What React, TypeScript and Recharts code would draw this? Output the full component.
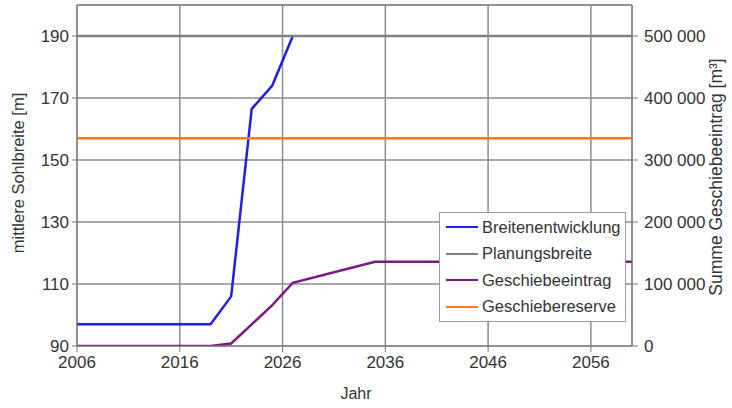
import React from 'react';
import { LineChart, Line, XAxis, YAxis, CartesianGrid, ReferenceLine, Label } from 'recharts';

// Jahre / Werte
const xTicks = [2006, 2016, 2026, 2036, 2046, 2056];
const leftTicks = [90, 110, 130, 150, 170, 190];
const rightTicks = [0, 100000, 200000, 300000, 400000, 500000];

const breiteYears = [2006, 2019, 2021, 2023, 2025, 2027];
const breiteValues = [97, 97, 106, 166.5, 174, 190];

const planungYears = [2006, 2060];
const planungValues = [190, 190];

const eintragYears = [2006, 2019, 2021, 2023, 2025, 2027, 2031, 2035, 2060];
const eintragValues = [0, 0, 4000, 35000, 66000, 102000, 119000, 136000, 136000];

const reserveYears = [2006, 2060];
const reserveValues = [335000, 335000];

const toRows = (years: number[], values: number[]) =>
    years.map((year, i) => ({ year, value: values[i] }));

const series = [
    { name: 'Breitenentwicklung', color: '#1f1fe6', axis: 'left', data: toRows(breiteYears, breiteValues) },
    { name: 'Planungsbreite', color: '#808080', axis: 'left', data: toRows(planungYears, planungValues) },
    { name: 'Geschiebeeintrag', color: '#7a1a7e', axis: 'right', data: toRows(eintragYears, eintragValues) },
    { name: 'Geschiebereserve', color: '#f57c25', axis: 'right', data: toRows(reserveYears, reserveValues) },
];

const font = '"Liberation Sans", Arial, sans-serif';
const textColor = '#333';
const gridColor = '#8c8c8c';

const fmt = (v: number) => String(v).replace(/\B(?=(\d{3})+(?!\d))/g, '\u00a0');

// Legende als HTML-Kasten über dem Plot, damit Recharts keinen Platz dafür reserviert
function LegendBox() {
    return (
        <div
            style={{
                position: 'absolute', left: 439, top: 212, width: 187, boxSizing: 'border-box',
                border: '1px solid #9a9a9a', background: '#fff', padding: '1px 0 1px 6px', fontFamily: font,
            }}
        >
            {series.map((s) => (
                <div key={s.name} style={{ display: 'flex', alignItems: 'center', height: 26.5 }}>
                    <div style={{ width: 32, height: 2, background: s.color, marginRight: 4 }} />
                    <span style={{ fontSize: 16.5, color: '#333' }}>{s.name}</span>
                </div>
            ))}
        </div>
    );
}

export default function App() {
    return (
        <div style={{ position: 'absolute', left: 0, top: 0, width: 732, height: 408, background: '#fff' }}>
            <LineChart width={732} height={408} margin={{ top: 5, right: 0, left: 0, bottom: 0 }}>
                <CartesianGrid yAxisId="left" stroke={gridColor} strokeWidth={1.5} />
                <XAxis
                    type="number"
                    dataKey="year"
                    domain={[2006, 2060]}
                    ticks={xTicks}
                    allowDataOverflow
                    height={62}
                    tickSize={6}
                    tickMargin={4}
                    stroke="#777"
                    tick={{ fill: textColor, fontSize: 17, fontFamily: font }}
                >
                    <Label
                        content={() => (
                            <text x={356} y={399} textAnchor="middle" fontSize={16} fontFamily={font} fill={textColor}>
                                Jahr
                            </text>
                        )}
                    />
                </XAxis>
                <YAxis
                    yAxisId="left"
                    type="number"
                    domain={[90, 200]}
                    ticks={leftTicks}
                    allowDataOverflow
                    width={77}
                    tickSize={5}
                    tickMargin={3}
                    stroke="#777"
                    tick={{ fill: textColor, fontSize: 17, fontFamily: font }}
                >
                    <Label
                        content={() => (
                            <text x={24} y={173} transform="rotate(-90 24 173)" textAnchor="middle" fontSize={16.5} fontFamily={font} fill={textColor}>
                                mittlere Sohlbreite [m]
                            </text>
                        )}
                    />
                </YAxis>
                <YAxis
                    yAxisId="right"
                    orientation="right"
                    type="number"
                    domain={[0, 550000]}
                    ticks={rightTicks}
                    allowDataOverflow
                    width={100}
                    tickSize={6}
                    tickMargin={6}
                    stroke="#777"
                    tickFormatter={fmt}
                    tick={{ fill: textColor, fontSize: 17, fontFamily: font }}
                >
                    <Label
                        content={() => (
                            <text x={722} y={177} transform="rotate(-90 722 177)" textAnchor="middle" fontSize={17.5} fontFamily={font} fill={textColor}>
                                Summe Geschiebeeintrag [m³]
                            </text>
                        )}
                    />
                </YAxis>
                <ReferenceLine yAxisId="left" y={200} stroke={gridColor} strokeWidth={1.5} />
                {series.map((s) => (
                    <Line
                        key={s.name}
                        yAxisId={s.axis}
                        data={s.data}
                        dataKey="value"
                        name={s.name}
                        type="linear"
                        stroke={s.color}
                        strokeWidth={2.5}
                        dot={false}
                        activeDot={false}
                        isAnimationActive={false}
                    />
                ))}
            </LineChart>
            <LegendBox />
        </div>
    );
}
